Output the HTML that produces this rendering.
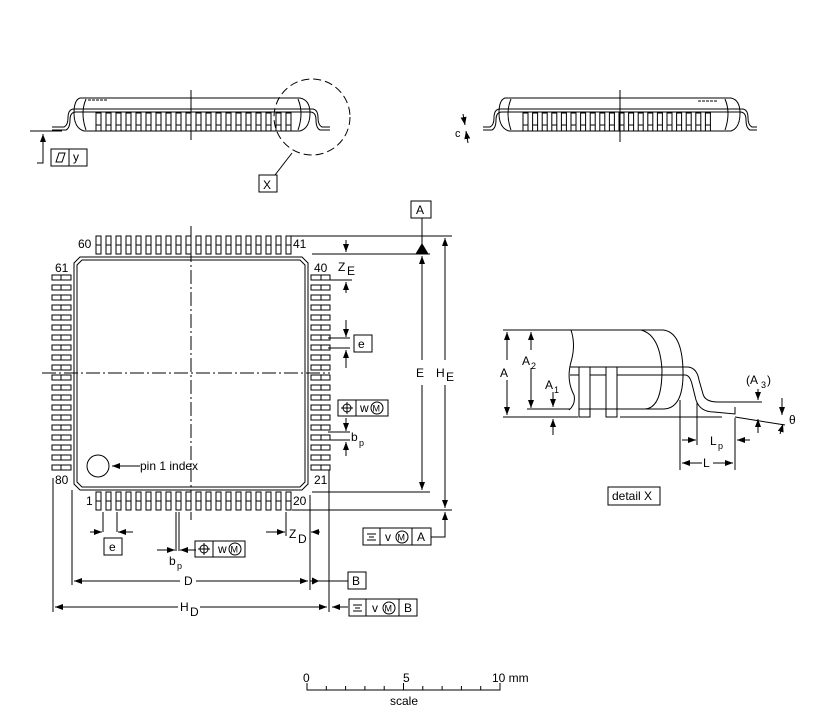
<!DOCTYPE html>
<html><head><meta charset="utf-8"><style>
html,body{margin:0;padding:0;background:#fff}
svg{display:block;font-family:"Liberation Sans",sans-serif}
svg text{font-size:12px;fill:#000;stroke:none}
</style></head><body>
<svg width="821" height="718" viewBox="0 0 821 718" xmlns="http://www.w3.org/2000/svg" stroke="#000" fill="none" stroke-width="1">
<defs>
<marker id="ar" markerWidth="8" markerHeight="6" refX="8" refY="3" orient="auto" markerUnits="userSpaceOnUse"><path d="M0,0 L8,3 L0,6z" fill="#000" stroke="none"/></marker>
</defs>
<g id="pins"></g>

<!-- side view left -->
<path d="M80,98 H300 Q310,100 310,113 Q310,128 300,131 H84 Q74,128 74,113 Q74,100 80,98z"/>
<path d="M86,99 Q80,113 86,130 M298,99 Q304,113 298,130"/>
<path d="M88,100 H108" stroke-dasharray="3,1"/>
<path d="M52,130 H66 Q70,128 70,120 Q70,112 76,112 H310 Q316,112 316,120 Q316,128 320,130 H330"/>
<path d="M52,127 H64 Q68,125 68,118 Q68,109 74,109 H312 Q318,109 318,118 Q318,125 322,127 H330"/>
<line x1="191" y1="90" x2="191" y2="140"/>
<circle cx="312" cy="117" r="38" stroke-dasharray="8,4"/>
<line x1="292" y1="153" x2="275" y2="175"/>
<rect x="259" y="175" width="18" height="17"/><text x="263" y="189">X</text>
<line x1="30" y1="131" x2="62" y2="131"/>
<path d="M37,163 H43 V134" marker-end="url(#ar)"/>
<rect x="51" y="149" width="36" height="17"/><line x1="69" y1="149" x2="69" y2="166"/>
<path d="M56,162 L59,153 H65 L62,162z"/><text x="73" y="161">y</text>

<!-- side view right -->
<path d="M505,98 H731 Q740,100 740,113 Q740,128 731,131 H509 Q499,128 499,113 Q499,100 505,98z"/>
<path d="M511,99 Q505,113 511,130 M725,99 Q731,113 725,130"/>
<path d="M698,101 H718" stroke-dasharray="3,1"/>
<path d="M483,130 H492 Q496,128 496,120 Q496,112 502,112 H740 Q746,112 746,120 Q746,128 750,130 H757"/>
<path d="M483,127 H490 Q494,125 494,118 Q494,109 500,109 H742 Q748,109 748,118 Q748,125 752,127 H757"/>
<line x1="620" y1="90" x2="620" y2="142"/>
<path d="M463,114 L465,125" marker-end="url(#ar)"/><path d="M468,143 L466,131" marker-end="url(#ar)"/>
<text x="455" y="137" style="font-size:11px">c</text>

<!-- plan view body -->
<path d="M80,257 H302 L308,263 V484 L302,490 H80 L74,484 V263z"/>
<path d="M82,260 H300 L305,265 V482 L300,487 H82 L77,482 V265z"/>
<line x1="191" y1="226" x2="191" y2="520" stroke-dasharray="14,3,2,3"/>
<line x1="42" y1="373" x2="330" y2="373" stroke-dasharray="14,3,2,3"/>
<circle cx="98" cy="466" r="11"/>
<path d="M140,466 H112" marker-end="url(#ar)"/>
<text x="140" y="470">pin 1  index</text>
<text x="78" y="248">60</text><text x="293" y="248">41</text>
<text x="55" y="272">61</text><text x="314" y="272">40</text>
<text x="55" y="484">80</text><text x="314" y="484">21</text>
<text x="86" y="505">1</text><text x="293" y="505">20</text>

<!-- right dims -->
<line x1="290" y1="236" x2="452" y2="236"/>
<line x1="312" y1="254" x2="430" y2="254"/>
<line x1="312" y1="492" x2="430" y2="492"/>
<line x1="292" y1="510" x2="452" y2="510"/>
<rect x="411" y="201" width="20" height="17"/><text x="416" y="214">A</text>
<line x1="422" y1="218" x2="422" y2="244"/><path d="M416,254 L422,244 L428,254z" fill="#000"/>
<path d="M422,360 V256" marker-end="url(#ar)"/><path d="M422,385 V490" marker-end="url(#ar)"/>
<text x="416" y="377">E</text>
<path d="M445,360 V238" marker-end="url(#ar)"/><path d="M445,385 V508" marker-end="url(#ar)"/>
<text x="436" y="377">H</text><text x="446" y="381">E</text>
<path d="M346,240 V252" marker-end="url(#ar)"/><path d="M346,293 V282" marker-end="url(#ar)"/>
<line x1="330" y1="280" x2="352" y2="280"/>
<text x="338" y="271">Z</text><text x="347" y="275">E</text>
<path d="M346,320 V337" marker-end="url(#ar)"/><path d="M346,368 V350" marker-end="url(#ar)"/>
<line x1="328" y1="338" x2="350" y2="338"/><line x1="328" y1="348" x2="350" y2="348"/>
<rect x="354" y="335" width="18" height="17"/><text x="358" y="348">e</text>
<rect x="338" y="400" width="50" height="16"/><line x1="356" y1="400" x2="356" y2="416"/>
<circle cx="347" cy="408" r="4"/><line x1="341" y1="408" x2="353" y2="408"/><line x1="347" y1="402" x2="347" y2="414"/>
<text x="360" y="412">w</text><circle cx="377" cy="408" r="6"/><text x="372.5" y="411.5" style="font-size:9px">M</text>
<path d="M346,418 V431" marker-end="url(#ar)"/><path d="M346,456 V442" marker-end="url(#ar)"/>
<line x1="328" y1="432" x2="350" y2="432"/><line x1="328" y1="440" x2="350" y2="440"/>
<text x="351" y="441">b</text><text x="359" y="446" style="font-size:9px">p</text>
<rect x="363" y="528" width="68" height="17"/><line x1="380" y1="528" x2="380" y2="545"/><line x1="412" y1="528" x2="412" y2="545"/>
<path d="M367,534 H376 M369,537 H374 M367,540 H376"/>
<text x="385" y="541">v</text><circle cx="402" cy="537" r="6"/><text x="397.5" y="540.5" style="font-size:9px">M</text>
<text x="417" y="541">A</text>
<path d="M431,537 H445 V512" marker-end="url(#ar)"/>

<!-- bottom dims -->
<line x1="103" y1="512" x2="103" y2="532"/><line x1="117" y1="512" x2="117" y2="532"/>
<path d="M90,532 H102" marker-end="url(#ar)"/><path d="M133,532 H118" marker-end="url(#ar)"/>
<rect x="104" y="538" width="18" height="17"/><text x="109" y="551">e</text>
<line x1="176" y1="512" x2="176" y2="551"/><line x1="179" y1="512" x2="179" y2="551"/>
<path d="M157,550 H175" marker-end="url(#ar)"/><path d="M196,550 H180" marker-end="url(#ar)"/>
<text x="169" y="565">b</text><text x="177" y="569" style="font-size:9px">p</text>
<rect x="195" y="541" width="50" height="16"/><line x1="213" y1="541" x2="213" y2="557"/>
<circle cx="204" cy="549" r="4"/><line x1="198" y1="549" x2="210" y2="549"/><line x1="204" y1="543" x2="204" y2="555"/>
<text x="218" y="553">w</text><circle cx="235" cy="549" r="6"/><text x="230.5" y="552.5" style="font-size:9px">M</text>
<line x1="286" y1="512" x2="286" y2="536"/>
<path d="M266,532 H285" marker-end="url(#ar)"/><path d="M320,532 H311" marker-end="url(#ar)"/>
<text x="289" y="538">Z</text><text x="298" y="543">D</text>
<line x1="72" y1="490" x2="72" y2="585"/><line x1="310" y1="495" x2="310" y2="590"/>
<line x1="53" y1="478" x2="53" y2="612"/><line x1="329" y1="470" x2="329" y2="612"/>
<path d="M180,581 H74" marker-end="url(#ar)"/><path d="M196,581 H308" marker-end="url(#ar)"/>
<text x="184" y="585">D</text>
<path d="M310,581 H348"/><path d="M312,578 L318,581 L312,584" fill="#000"/>
<rect x="348" y="572" width="18" height="17"/><text x="352" y="585">B</text>
<path d="M178,607 H55" marker-end="url(#ar)"/><path d="M200,607 H327" marker-end="url(#ar)"/>
<text x="180" y="611">H</text><text x="190" y="616">D</text>
<path d="M348,607 H332" marker-end="url(#ar)"/>
<rect x="349" y="599" width="68" height="17"/><line x1="366" y1="599" x2="366" y2="616"/><line x1="399" y1="599" x2="399" y2="616"/>
<path d="M353,605 H362 M355,608 H360 M353,611 H362"/>
<text x="372" y="612">v</text><circle cx="389" cy="608" r="6"/><text x="384.5" y="611.5" style="font-size:9px">M</text>
<text x="404" y="612">B</text>

<!-- detail X -->
<line x1="503" y1="330" x2="572" y2="330"/>
<line x1="503" y1="417" x2="578" y2="417"/><line x1="620" y1="417" x2="722" y2="417"/>
<path d="M507,360 V332" marker-end="url(#ar)"/><path d="M507,380 V415" marker-end="url(#ar)"/>
<text x="500" y="377">A</text>
<path d="M531,350 V332" marker-end="url(#ar)"/><path d="M531,368 V408" marker-end="url(#ar)"/>
<text x="522" y="365">A</text><text x="531" y="369" style="font-size:9px">2</text>
<line x1="527" y1="409" x2="570" y2="409"/>
<path d="M553,392 V407" marker-end="url(#ar)"/><path d="M553,435 V419" marker-end="url(#ar)"/>
<text x="545" y="389">A</text><text x="554" y="393" style="font-size:9px">1</text>
<path d="M571,330 Q576,345 571,362 Q566,380 574,395 Q576,404 569,410"/>
<path d="M572,330 H663 Q682,332 683,370 Q684,408 664,409 H579"/>
<path d="M641,330 Q660,335 662,370 Q662,408 645,409"/>
<path d="M570,367 H688 Q697,368 699,380 L703,394 Q705,402 718,402 H762"/>
<path d="M570,375 H686 Q690,376 692,384 L696,400 Q700,412 714,412 L735,414 V407"/>
<rect x="579" y="367" width="11" height="50" fill="#fff"/><line x1="579" y1="409" x2="590" y2="409"/>
<rect x="606" y="367" width="11" height="50" fill="#fff"/><line x1="606" y1="409" x2="617" y2="409"/>
<path d="M735,417 L785,425"/>
<text x="746" y="384">(A</text><text x="761" y="388" style="font-size:9px">3</text><text x="767" y="384">)</text>
<path d="M758,389 V400" marker-end="url(#ar)"/>
<path d="M782,398 V415" marker-end="url(#ar)"/><path d="M758,433 V419" marker-end="url(#ar)"/>
<path d="M780,434 L783,424" marker-end="url(#ar)"/>
<text x="789" y="424">θ</text>
<line x1="680" y1="400" x2="680" y2="470"/><line x1="697" y1="402" x2="697" y2="445"/><line x1="735" y1="418" x2="735" y2="470"/>
<path d="M682,440 H696" marker-end="url(#ar)"/><path d="M750,440 H737" marker-end="url(#ar)"/>
<text x="710" y="445">L</text><text x="718" y="449" style="font-size:9px">p</text>
<path d="M702,463 H682" marker-end="url(#ar)"/><path d="M713,463 H733" marker-end="url(#ar)"/>
<text x="703" y="467">L</text>
<rect x="608" y="487" width="52" height="18"/><text x="612" y="500">detail X</text>

<!-- scale -->
<path d="M307,683 V690 H500 V683"/>
<g id="ticks"></g>
<text x="303" y="682">0</text><text x="403" y="682">5</text><text x="492" y="682">10 mm</text>
<text x="390" y="705">scale</text>
</svg>
<script>
var ns="http://www.w3.org/2000/svg",g=document.getElementById('pins');
function r(x,y,w,h){var e=document.createElementNS(ns,'rect');e.setAttribute('x',x);e.setAttribute('y',y);e.setAttribute('width',w);e.setAttribute('height',h);e.setAttribute('fill','#fff');g.appendChild(e);}
function l(x1,y1,x2,y2){var e=document.createElementNS(ns,'line');e.setAttribute('x1',x1);e.setAttribute('y1',y1);e.setAttribute('x2',x2);e.setAttribute('y2',y2);g.appendChild(e);}
for(var i=0;i<20;i++){var x=96+i*10.0;r(x,236,5,18);l(x,245,x+5,245);r(x,492,5,18);l(x,501,x+5,501);
var y=275+i*10.0;r(52,y,19,5);l(61,y,61,y+5);r(311,y,19,5);l(321,y,321,y+5);
r(96+i*10.0,113,5,18);l(96+i*10.0,125,101+i*10.0,125);
r(523+i*9.6,113,5,18);l(523+i*9.6,125,528+i*9.6,125);}
var t=document.getElementById('ticks');
for(var k=1;k<10;k++){var e=document.createElementNS(ns,'line');var x=307+k*19.3;e.setAttribute('x1',x);e.setAttribute('x2',x);e.setAttribute('y1',k==5?683:686);e.setAttribute('y2',690);t.appendChild(e);}
</script>
</body></html>
